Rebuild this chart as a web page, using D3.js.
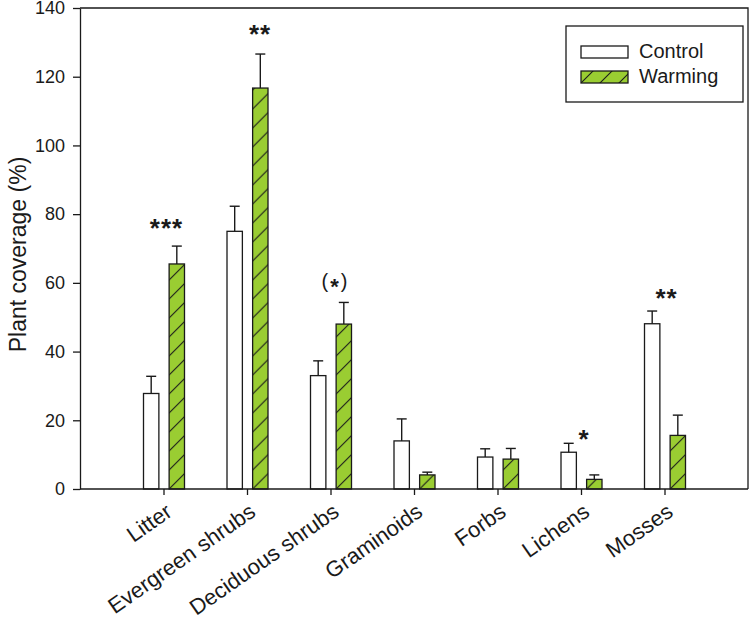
<!DOCTYPE html>
<html>
<head>
<meta charset="utf-8">
<script src="https://cdn.jsdelivr.net/npm/d3@7"></script>
<style>
  html, body { margin: 0; padding: 0; background: #fff; }
  svg { display: block; font-family: "Liberation Sans", Arial, sans-serif; }
</style>
</head>
<body>
<svg id="chart" width="750" height="617"></svg>
<script>
// ---- data ----
const categories = ["Litter", "Evergreen shrubs", "Deciduous shrubs", "Graminoids", "Forbs", "Lichens", "Mosses"];
const seriesNames = ["Control", "Warming"];
const controlMean = [27.8, 75.0, 33.0, 14.0, 9.3, 10.7, 48.1];
const controlErr  = [5.0, 7.3, 4.3, 6.4, 2.4, 2.6, 3.7];
const warmingMean = [65.5, 116.7, 48.0, 4.1, 8.7, 2.8, 15.6];
const warmingErr  = [5.2, 9.9, 6.3, 0.8, 3.1, 1.3, 5.9];
const yTicks = [0, 20, 40, 60, 80, 100, 120, 140];
const sigCategories = ["Litter", "Evergreen shrubs", "Deciduous shrubs", "Lichens", "Mosses"];
const sigTexts = ["***", "**", "(*)", "*", "**"];
const sigLevels = [77.4, 134, 60.2, 16, 57];   // label centre in data units
const sigDx = [3, 13, 4, 3, 2];                 // small horizontal nudges (px)
const yTitle = "Plant coverage (%)";

// ---- layout ----
const svg = d3.select("#chart");
const X0 = 80, X1 = 748, Y0 = 489, Y1 = 8;
const green = "#9acd32", ink = "#1a1a1a";

const y = d3.scaleLinear().domain([0, 140]).range([Y0, Y1]);
const x = d3.scalePoint().domain(categories).range([X0, X1]).padding(1);
const inner = d3.scaleBand().domain(seriesNames).range([-20, 21]).paddingInner(0.4);
const bw = inner.bandwidth();

const rows = [];
categories.forEach((c, i) => {
  rows.push({ cat: c, s: "Control", v: controlMean[i], e: controlErr[i], i });
  rows.push({ cat: c, s: "Warming", v: warmingMean[i], e: warmingErr[i], i });
});

const defs = svg.append("defs");
function hatch(id, tx, ty) {
  const p = defs.append("pattern").attr("id", id)
    .attr("patternUnits", "userSpaceOnUse").attr("width", 19).attr("height", 19)
    .attr("patternTransform", `translate(${tx},${ty})`);
  p.append("rect").attr("width", 19).attr("height", 19).attr("fill", green);
  p.append("path").attr("d", "M0,19L19,0M-2,2L2,-2M17,21L21,17")
    .attr("stroke", ink).attr("stroke-width", 1.1).attr("fill", "none");
}

// bars
const gBars = svg.append("g");
rows.forEach((d, k) => {
  const bx = x(d.cat) + inner(d.s);
  let fill = "#fff";
  if (d.s === "Warming") { hatch("h" + k, bx, Y0); fill = `url(#h${k})`; }
  gBars.append("rect")
    .attr("x", bx).attr("y", y(d.v))
    .attr("width", bw).attr("height", Y0 - y(d.v))
    .attr("fill", fill).attr("stroke", ink).attr("stroke-width", 1.3);
  const cx = bx + bw / 2;
  gBars.append("line").attr("x1", cx).attr("x2", cx)
    .attr("y1", y(d.v)).attr("y2", y(d.v + d.e))
    .attr("stroke", ink).attr("stroke-width", 1.4);
  gBars.append("line").attr("x1", cx - 5).attr("x2", cx + 5)
    .attr("y1", y(d.v + d.e)).attr("y2", y(d.v + d.e))
    .attr("stroke", ink).attr("stroke-width", 1.4);
});

// frame (top & right)
svg.append("path").attr("d", `M${X0},${Y1}H${X1}V${Y0}`)
  .attr("fill", "none").attr("stroke", ink).attr("stroke-width", 1.3);

// y axis
const ya = svg.append("g").attr("transform", `translate(${X0},0)`)
  .call(d3.axisLeft(y).tickValues(yTicks).tickSize(7).tickSizeOuter(0).tickPadding(8));
ya.selectAll("text").attr("font-size", 18).attr("fill", ink).attr("font-family", "Liberation Sans, Arial, sans-serif");
ya.selectAll("line,path").attr("stroke", ink).attr("stroke-width", 1.3);

// x axis
const xa = svg.append("g").attr("transform", `translate(0,${Y0})`)
  .call(d3.axisBottom(x).tickSize(6).tickSizeOuter(0));
xa.selectAll("text").remove();
xa.selectAll("line,path").attr("stroke", ink).attr("stroke-width", 1.3);
xa.select("path").attr("d", `M${X0},0H${X1}`);

svg.append("g").selectAll("text").data(categories).join("text")
  .attr("transform", d => `translate(${x(d) + 10},${Y0 + 26}) rotate(-35)`)
  .attr("text-anchor", "end").attr("font-size", 22).attr("fill", ink)
  .text(d => d);

// y title
svg.append("text")
  .attr("transform", `translate(${26},${(Y0 + Y1) / 2 + 6}) rotate(-90)`)
  .attr("text-anchor", "middle").attr("font-size", 23).attr("fill", ink)
  .text(yTitle);

// significance labels
sigCategories.forEach((c, i) => {
  const t = sigTexts[i];
  const cx = x(c) + sigDx[i], cy = y(sigLevels[i]);
  if (t.startsWith("(")) {
    const tx = svg.append("text").attr("x", cx).attr("y", cy + 6)
      .attr("text-anchor", "middle").attr("font-size", 20).attr("fill", ink);
    tx.append("tspan").text("(");
    tx.append("tspan").attr("dy", 6).attr("dx", 2).attr("font-size", 22).attr("font-weight", "bold").text("*");
    tx.append("tspan").attr("dy", -6).attr("dx", 2).text(")");
  } else {
    svg.append("text").attr("x", cx).attr("y", cy + 14)
      .attr("text-anchor", "middle").attr("font-size", 26).attr("font-weight", "bold")
      .attr("letter-spacing", 1).attr("fill", ink).text(t);
  }
});

// legend
const lg = svg.append("g");
lg.append("rect").attr("x", 566).attr("y", 26).attr("width", 177).attr("height", 76)
  .attr("fill", "#fff").attr("stroke", ink).attr("stroke-width", 1.3);
hatch("hleg", 581, 83);
const legFill = ["#fff", "url(#hleg)"];
const legY = [46, 71];
seriesNames.forEach((s, i) => {
  lg.append("rect").attr("x", 581).attr("y", legY[i]).attr("width", 47).attr("height", 12)
    .attr("fill", legFill[i]).attr("stroke", ink).attr("stroke-width", 1.3);
  lg.append("text").attr("x", 639).attr("y", legY[i] + 12).attr("font-size", 20)
    .attr("fill", ink).text(s);
});
</script>
</body>
</html>
